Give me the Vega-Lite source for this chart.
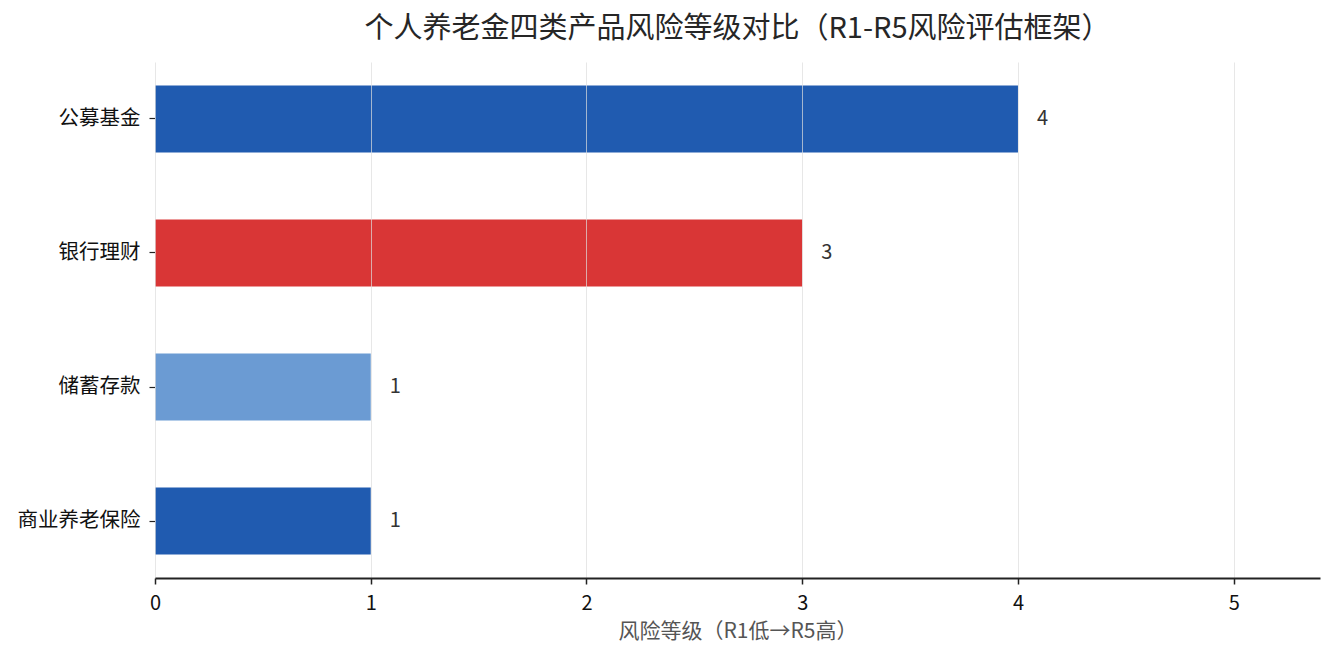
{
  "$schema": "https://vega.github.io/schema/vega-lite/v6.json",
  "width": 1165,
  "height": 516,
  "autosize": "none",
  "padding": {"left": 155, "top": 62, "right": 14, "bottom": 82},
  "background": "white",
  "title": {
    "text": "个人养老金四类产品风险等级对比（R1-R5风险评估框架）",
    "font": "Noto Sans CJK SC",
    "fontSize": 29,
    "fontWeight": "normal",
    "color": "#262626",
    "anchor": "middle",
    "offset": 18
  },
  "data": {
    "values": [
      {"product": "公募基金", "risk": 4, "color": "#205BB0"},
      {"product": "银行理财", "risk": 3, "color": "#D93636"},
      {"product": "储蓄存款", "risk": 1, "color": "#6B9BD3"},
      {"product": "商业养老保险", "risk": 1, "color": "#205BB0"}
    ]
  },
  "config": {
    "view": {"stroke": null},
    "font": "Noto Sans CJK SC"
  },
  "encoding": {
    "y": {
      "field": "product",
      "type": "nominal",
      "sort": null,
      "scale": {"paddingInner": 0.5, "paddingOuter": 0.175},
      "axis": {
        "title": null,
        "domain": false,
        "ticks": true,
        "tickSize": 6,
        "tickColor": "#222222",
        "tickWidth": 1.2,
        "labelFont": "Noto Sans CJK SC",
        "labelFontSize": 20.5,
        "labelColor": "#111111",
        "labelPadding": 9,
        "grid": false
      }
    },
    "x": {
      "field": "risk",
      "type": "quantitative",
      "scale": {"domain": [0, 5.4], "nice": false},
      "axis": {
        "title": "风险等级（R1低→R5高）",
        "titleFont": "Noto Sans CJK SC",
        "titleFontSize": 21,
        "titleFontWeight": "normal",
        "titleColor": "#555555",
        "titlePadding": 7,
        "values": [0, 1, 2, 3, 4, 5],
        "format": "d",
        "labelFlush": false,
        "labelFont": "Noto Sans CJK SC",
        "labelFontSize": 20,
        "labelColor": "#111111",
        "labelPadding": 9,
        "domainColor": "#222222",
        "domainWidth": 1.8,
        "tickColor": "#222222",
        "tickSize": 6,
        "tickWidth": 1.5,
        "grid": true,
        "gridColor": "#dddddd",
        "gridOpacity": 0.7,
        "gridWidth": 1,
        "zindex": 1
      }
    }
  },
  "layer": [
    {
      "mark": {"type": "bar"},
      "encoding": {
        "color": {"field": "color", "type": "nominal", "scale": null, "legend": null}
      }
    },
    {
      "mark": {"type": "text", "align": "left", "baseline": "middle", "dx": 19, "fontSize": 20, "color": "#333333", "font": "Noto Sans CJK SC"},
      "encoding": {
        "text": {"field": "risk", "type": "quantitative", "format": "d"}
      }
    }
  ]
}
